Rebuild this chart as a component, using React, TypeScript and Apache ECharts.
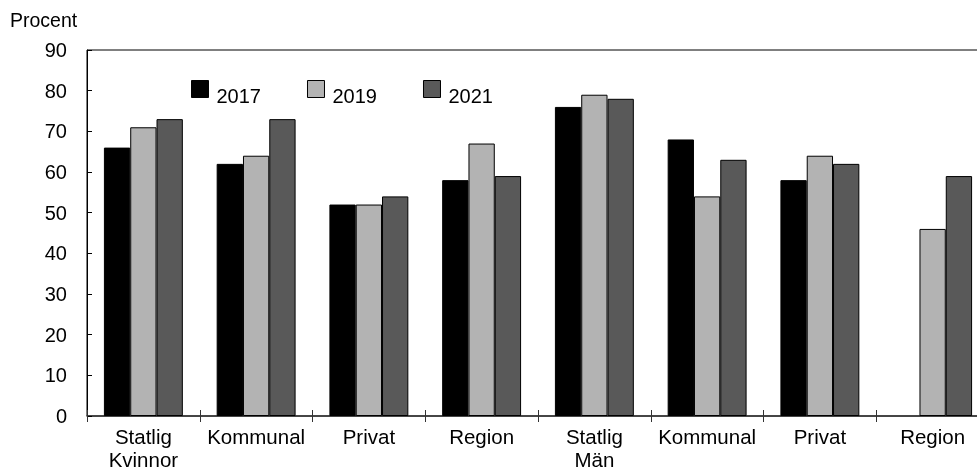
import React, { useEffect, useRef } from "react";
import * as echarts from "echarts";

const categories = ["Statlig\nKvinnor", "Kommunal", "Privat", "Region", "Statlig\nMän", "Kommunal", "Privat", "Region"];
const seriesNames = ["2017", "2019", "2021"];
const values2017 = [66, 62, 52, 58, 76, 68, 58, null];
const values2019 = [71, 64, 52, 67, 79, 54, 64, 46];
const values2021 = [73, 73, 54, 59, 78, 63, 62, 59];
const colors = ["#000000", "#b3b3b3", "#595959"];
const yTicks = { min: 0, max: 90, interval: 10 };

export default function App() {
  const ref = useRef<HTMLDivElement>(null);
  useEffect(() => {
    if (!ref.current) return;
    const chart = echarts.init(ref.current, null, { renderer: "svg" });
    const font = "Liberation Sans, Arial, sans-serif";
    const data = [values2017, values2019, values2021];
    chart.setOption({
      animation: false,
      textStyle: { fontFamily: font },
      grid: {
        left: 87,
        right: 11,
        top: 50,
        bottom: 56,
        show: true,
        borderColor: "#000",
        borderWidth: 1,
        containLabel: false,
        outerBoundsMode: "none",
      },
      legend: {
        data: seriesNames,
        left: 191,
        top: 80,
        padding: 0,
        itemWidth: 17,
        itemHeight: 17,
        itemGap: 46,
        icon: "rect",
        selectedMode: false,
        itemStyle: { borderColor: "#000", borderWidth: 1 },
        formatter: "{t|{name}}",
        textStyle: {
          fontSize: 20,
          color: "#000",
          fontFamily: font,
          rich: { t: { fontSize: 20, color: "#000", fontFamily: font, padding: [14, 0, 0, 3] } },
        },
      },
      graphic: [
        { type: "text", left: 10, top: 10, style: { text: "Procent", fontSize: 19.5, fill: "#000", fontFamily: font } },
      ],
      xAxis: [
        {
          type: "category",
          data: categories,
          axisLine: { lineStyle: { color: "#333", width: 1.5 } },
          axisTick: { show: true, length: 6, interval: 0, lineStyle: { color: "#333" } },
          axisLabel: { fontSize: 20.5, color: "#000", margin: 9, lineHeight: 23, interval: 0, fontFamily: font },
        },
        {
          type: "category",
          data: categories,
          position: "bottom",
          axisLine: { show: false },
          axisTick: { show: true, inside: true, length: 6, interval: 0, lineStyle: { color: "#333" } },
          axisLabel: { show: false },
        },
      ],
      yAxis: {
        type: "value",
        min: yTicks.min,
        max: yTicks.max,
        interval: yTicks.interval,
        axisLine: { show: true, lineStyle: { color: "#000" } },
        axisTick: { show: true, inside: true, length: 5, lineStyle: { color: "#000" } },
        splitLine: { show: false },
        axisLabel: { fontSize: 20, color: "#000", margin: 20, fontFamily: font },
      },
      series: seriesNames.map((name, i) => ({
        name,
        type: "bar",
        data: data[i],
        barGap: "0%",
        barCategoryGap: "30%",
        itemStyle: { color: colors[i], borderColor: "#000", borderWidth: 1 },
      })),
    });
    return () => chart.dispose();
  }, []);
  return <div ref={ref} style={{ position: "fixed", left: 0, top: 0, width: 1000, height: 472 }} />;
}
